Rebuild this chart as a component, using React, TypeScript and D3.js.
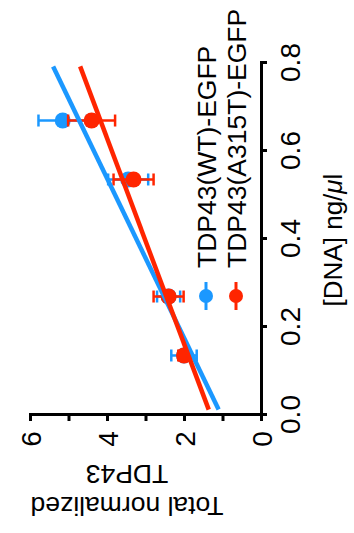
import React, {useEffect, useRef} from 'react';
import * as d3 from 'd3';

// DNA concentration (ng/µl) for each transfection
const dnaConc = [0.133, 0.267, 0.533, 0.667];

// Total normalized TDP43, mean and error, per construct
const wtMean = [2.0, 2.4, 3.45, 5.15];
const wtErr = [0.33, 0.3, 0.52, 0.63];
const mutMean = [2.0, 2.4, 3.31, 4.4];
const mutErr = [0.15, 0.39, 0.52, 0.61];

const seriesNames = ['TDP43(WT)-EGFP', 'TDP43(A315T)-EGFP'];
const seriesColors = ['#1b98ff', '#ff2500'];

const dnaTicks = [0, 0.2, 0.4, 0.6, 0.8];
const tdpTicks = [0, 1, 2, 3, 4, 5, 6];
const tdpLabels = [0, 2, 4, 6];

interface Pt {
  dna: number
  mean: number
  err: number
}

// least squares line through the means
function fitLine(data: Pt[]) {
  const xAvg = d3.mean(data, d => d.dna)!;
  const yAvg = d3.mean(data, d => d.mean)!;
  let num = 0;
  let den = 0;
  for (const d of data) {
    num += (d.dna - xAvg) * (d.mean - yAvg);
    den += Math.pow(d.dna - xAvg, 2);
  }
  const m = num / den;
  return {m, b: yAvg - m * xAvg};
}

const FONT = '"Liberation Sans", Arial, Helvetica, sans-serif';

export default function App() {
  const ref = useRef<SVGSVGElement>(null);

  useEffect(() => {
    const svg = d3.select(ref.current);
    svg.selectAll('*').remove();

    // the figure is turned a quarter turn: DNA runs up the right side, TDP43 runs leftwards
    const y = d3.scaleLinear([0, 0.8], [414, 62]);
    const x = d3.scaleLinear([0, 6], [261, 30]);

    const series: Pt[][] = [
      dnaConc.map((d, i) => ({dna: d, mean: wtMean[i], err: wtErr[i]})),
      dnaConc.map((d, i) => ({dna: d, mean: mutMean[i], err: mutErr[i]})),
    ];

    // points with error bars
    series.forEach((data, si) => {
      const g = svg.append('g').attr('stroke', seriesColors[si]).attr('fill', seriesColors[si]);
      data.forEach(d => {
        g.append('line')
          .attr('x1', x(d.mean - d.err)).attr('x2', x(d.mean + d.err))
          .attr('y1', y(d.dna)).attr('y2', y(d.dna))
          .attr('stroke-width', 2.5);
        [d.mean - d.err, d.mean + d.err].forEach(v => {
          g.append('line')
            .attr('x1', x(v)).attr('x2', x(v))
            .attr('y1', y(d.dna) - 6).attr('y2', y(d.dna) + 6)
            .attr('stroke-width', 2.5);
        });
        g.append('circle')
          .attr('cx', x(d.mean)).attr('cy', y(d.dna)).attr('r', 8)
          .attr('stroke', 'none');
      });
    });

    // regression lines over 0..0.8
    series.forEach((data, si) => {
      const {m, b} = fitLine(data);
      const line = d3.line<number>().x(d => x(m * d + b)).y(d => y(d));
      svg.append('path')
        .attr('d', line([0.01, 0.79]))
        .attr('fill', 'none')
        .attr('stroke', seriesColors[si])
        .attr('stroke-width', 4.5);
    });

    // DNA axis (right side)
    const dnaAxis = svg.append('g')
      .attr('transform', 'translate(261,0)')
      .call(d3.axisRight(y).tickValues(dnaTicks).tickFormat(d3.format('.1f')).tickSize(6).tickSizeOuter(0))
      .attr('font-size', 28)
      .attr('font-family', FONT);
    dnaAxis.select('.domain').attr('stroke-width', 3).attr('stroke-linecap', 'square');
    dnaAxis.selectAll('.tick line').attr('stroke-width', 3);
    dnaAxis.selectAll('.tick text')
      .attr('x', 0).attr('y', 0).attr('dy', '0.36em')
      .attr('text-anchor', 'middle')
      .attr('transform', 'translate(29,0) rotate(-90)');

    // TDP43 axis (bottom)
    const tdpAxis = svg.append('g')
      .attr('transform', 'translate(0,414)')
      .call(d3.axisBottom(x).tickValues(tdpTicks)
        .tickFormat(d => tdpLabels.includes(+d) ? String(d) : '')
        .tickSize(7).tickSizeOuter(0))
      .attr('font-size', 28)
      .attr('font-family', FONT);
    tdpAxis.select('.domain').attr('stroke-width', 3).attr('stroke-linecap', 'square');
    tdpAxis.selectAll('.tick line').attr('stroke-width', 3);
    tdpAxis.selectAll('.tick text')
      .attr('x', 0).attr('y', 0).attr('dy', '0.36em')
      .attr('text-anchor', 'middle')
      .attr('transform', 'translate(0,25) rotate(-90)');

    // axis titles
    const dnaTitle = svg.append('text')
      .attr('transform', 'translate(333,240) rotate(-90)')
      .attr('text-anchor', 'middle')
      .attr('dy', '0.36em')
      .attr('font-size', 26)
      .attr('font-family', FONT);
    dnaTitle.append('tspan').text('[DNA] ng/');
    dnaTitle.append('tspan').attr('font-style', 'italic').text('μ');
    dnaTitle.append('tspan').text('l');

    [['TDP43', 465], ['Total normalized', 497]].forEach(([t, yy]) => {
      svg.append('text')
        .attr('transform', `translate(127,${yy}) rotate(180)`)
        .attr('text-anchor', 'middle')
        .attr('font-size', 26.5)
        .attr('font-family', FONT)
        .text(t as string);
    });

    // legend
    seriesNames.forEach((name, i) => {
      const cx = 206 + i * 30;
      const g = svg.append('g');
      g.append('line')
        .attr('x1', cx).attr('x2', cx).attr('y1', 282).attr('y2', 310)
        .attr('stroke', seriesColors[i]).attr('stroke-width', 3);
      g.append('circle').attr('cx', cx).attr('cy', 296).attr('r', 7).attr('fill', seriesColors[i]);
      g.append('text')
        .attr('transform', `translate(${cx},268) rotate(-90)`)
        .attr('dy', '0.36em')
        .attr('font-size', 26.5)
        .attr('font-family', FONT)
        .text(name);
    });
  }, []);

  return <svg ref={ref} width={354} height={533}
              style={{position: 'absolute', left: 0, top: 0, background: '#fff'}}/>;
}
